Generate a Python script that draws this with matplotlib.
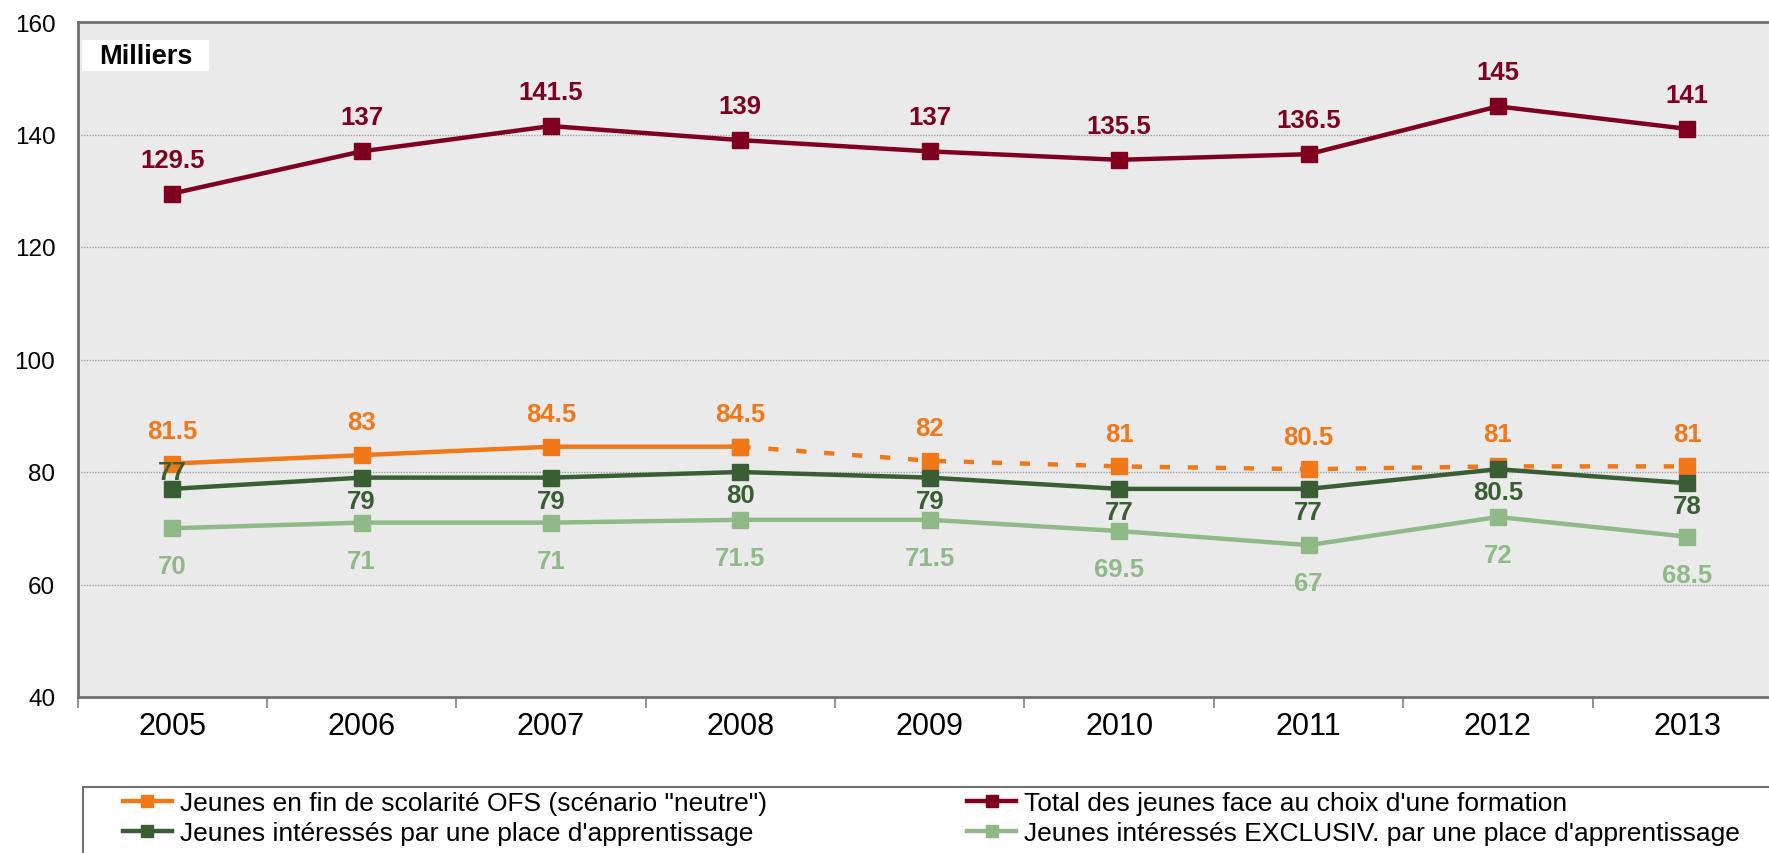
import numpy as np
import matplotlib
matplotlib.use("Agg")
import matplotlib.pyplot as plt
from matplotlib.lines import Line2D
from matplotlib.patches import Rectangle

plt.rcParams['font.family'] = ['Liberation Sans', 'DejaVu Sans']

annees = ['2005', '2006', '2007', '2008', '2009', '2010', '2011', '2012', '2013']
fin_scolarite = [81.5, 83, 84.5, 84.5, 82, 81, 80.5, 81, 81]
total_jeunes = [129.5, 137, 141.5, 139, 137, 135.5, 136.5, 145, 141]
interesses = [77, 79, 79, 80, 79, 77, 77, 80.5, 78]
exclusiv = [70, 71, 71, 71.5, 71.5, 69.5, 67, 72, 68.5]

# couleurs
c_orange = '#F07818'
c_rouge = '#800020'
c_vert = '#3A5E34'
c_vert_clair = '#8FBA88'

W, H = 1769, 854
x = np.arange(len(annees))

fig = plt.figure(figsize=(W / 100, H / 100), dpi=100)
ax = fig.add_axes([77.5 / W, 1 - 698 / H, (1782 - 77.5) / W, (698 - 23) / H])
ax.set_facecolor('#EAEAEA')

lw = 3.2
ms = 11

# ligne orange: pleine jusqu'a 2008, pointillee ensuite
ax.plot(x[:4], fin_scolarite[:4], color=c_orange, lw=lw, marker='s', ms=ms, zorder=3)
ax.plot(x[3:], fin_scolarite[3:], color=c_orange, lw=lw, marker='s', ms=ms,
        dashes=(2.3, 4.0), dash_capstyle='butt', zorder=3)
ax.plot(x, total_jeunes, color=c_rouge, lw=lw, marker='s', ms=ms, zorder=3)
ax.plot(x, interesses, color=c_vert, lw=lw, marker='s', ms=ms, zorder=3)
ax.plot(x, exclusiv, color=c_vert_clair, lw=lw, marker='s', ms=ms, zorder=3)


def etiquettes(valeurs, couleur, decalages):
    for i, v in enumerate(valeurs):
        ax.annotate(f"{v:g}", (x[i], v), xytext=(0, decalages[i]), textcoords='offset points',
                    ha='center', va='center', fontsize=18.5, fontweight='bold',
                    color=couleur, zorder=5)


etiquettes(total_jeunes, c_rouge, [24.5] * 9)
etiquettes(fin_scolarite, c_orange, [23.5] * 9)
etiquettes(interesses, c_vert, [12.5] + [-16.5] * 8)
etiquettes(exclusiv, c_vert_clair, [-27.5] * 9)

ax.set_ylim(40, 160)
ax.set_xlim(-0.5, 8.5)
ax.set_yticks(np.arange(40, 161, 20))
ax.tick_params(axis='y', length=0, labelsize=17.5, pad=16)
ax.set_xticks(x)
ax.set_xticklabels(annees)
ax.set_xticks(np.arange(-0.5, 8.5, 1), minor=True)
ax.tick_params(axis='x', which='major', length=0, labelsize=22, pad=10)
ax.tick_params(axis='x', which='minor', length=8, width=1.2, color='#808080', direction='out')

for g in [60, 80, 100, 120, 140]:
    ax.axhline(g, color='#A0A0A0', lw=1, ls=(0, (1, 1)), zorder=1)

for s in ['left', 'bottom', 'top']:
    ax.spines[s].set_color('#707070')
    ax.spines[s].set_linewidth(2)
ax.spines['right'].set_visible(False)

# encadre "Milliers"
fig.patches.append(Rectangle((82 / W, 1 - 72 / H), 127 / W, 31 / H, transform=fig.transFigure,
                             facecolor='white', edgecolor='none', zorder=6))
fig.text(146 / W, 1 - 57 / H, 'Milliers', fontsize=19.5, fontweight='bold',
         ha='center', va='center', zorder=7)

# cadre de la legende
fig.patches.append(Rectangle((83 / W, -0.05), 1.0, 1 - 788 / H + 0.05, transform=fig.transFigure,
                             facecolor='white', edgecolor='#707070', lw=1.5, zorder=0))

poignees = [
    Line2D([], [], color=c_orange, lw=lw, marker='s', ms=9),
    Line2D([], [], color=c_vert, lw=lw, marker='s', ms=9),
    Line2D([], [], color=c_rouge, lw=lw, marker='s', ms=9),
    Line2D([], [], color=c_vert_clair, lw=lw, marker='s', ms=9),
]
noms = [
    'Jeunes en fin de scolarité OFS (scénario "neutre")',
    "Jeunes intéressés par une place d'apprentissage",
    "Total des jeunes face au choix d'une formation",
    "Jeunes intéressés EXCLUSIV. par une place d'apprentissage",
]
leg = fig.legend(poignees, noms, ncol=2, loc='upper left',
                 bbox_to_anchor=(123 / W, 1 - 792 / H), fontsize=19,
                 frameon=False, handlelength=1.85, handletextpad=0.3,
                 columnspacing=7.6, labelspacing=0.22, borderpad=0, borderaxespad=0)

plt.savefig('out.png', dpi=100)
